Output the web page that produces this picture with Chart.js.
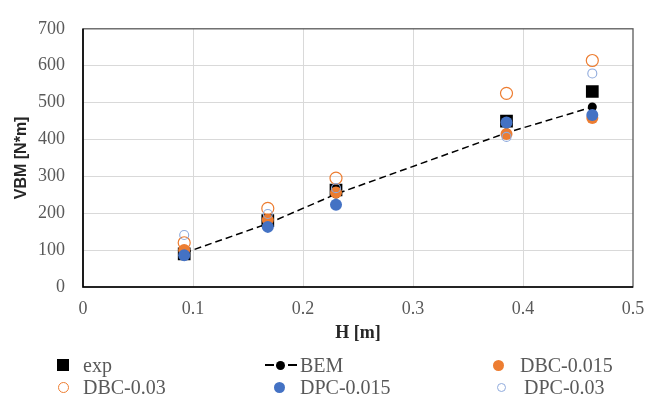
<!DOCTYPE html>
<html>
<head>
<meta charset="utf-8">
<script src="https://cdn.jsdelivr.net/npm/chart.js@4.4.0/dist/chart.umd.min.js"></script>
<style>
  body { margin: 0; background: #fff; }
  #wrap { position: relative; width: 659px; height: 396px; }
  .lg { position: absolute; font-family: "Liberation Serif", serif; font-size: 20px; color: #595959; line-height: 22px; white-space: nowrap; }
  .mk { position: absolute; box-sizing: border-box; }
</style>
</head>
<body>
<div id="wrap">
  <canvas id="vbmChart" width="659" height="396"></canvas>
  <div id="legend"></div>
</div>
<script>
// wave height H [m] and VBM [N*m]
const hValues = [0.092, 0.168, 0.23, 0.385, 0.463];
const expVals = [90, 180, 263, 450, 530];
const bemVals = [92, 172, 252, 418, 488];
const dbc015Vals = [100, 182, 256, 415, 458];
const dbc03Vals = [120, 213, 295, 525, 614];
const dpc015Vals = [86, 163, 223, 446, 466];
const dpc03Vals = [141, 198, 268, 407, 579];

const orange = '#ED7D31';
const blue = '#4472C4';
const lightBlue = '#8FAADC';

const pts = vals => vals.map((v, i) => ({ x: hValues[i], y: v }));

// frame round the plot area (Excel style)
const boxPlugin = {
  id: 'box',
  beforeDatasetsDraw(chart) {
    const { ctx, chartArea: a } = chart;
    ctx.save();
    ctx.strokeStyle = '#595959';
    ctx.lineWidth = 1.3;
    ctx.strokeRect(a.left, a.top, a.right - a.left, a.bottom - a.top);
    ctx.strokeStyle = '#000';
    ctx.lineWidth = 1.6;
    ctx.beginPath();
    ctx.moveTo(a.left, a.top);
    ctx.lineTo(a.left, a.bottom);
    ctx.lineTo(a.right, a.bottom);
    ctx.stroke();
    ctx.restore();
  }
};

const gridColor = c => (c.tick.value === c.scale.min || c.tick.value === c.scale.max) ? 'rgba(0,0,0,0)' : '#d9d9d9';

new Chart(document.getElementById('vbmChart'), {
  type: 'scatter',
  data: {
    datasets: [
      { label: 'exp', data: pts(expVals), pointStyle: 'rect', pointRadius: 9, backgroundColor: '#000', borderColor: '#000', borderWidth: 0, order: 6 },
      { label: 'BEM', data: pts(bemVals), showLine: true, borderColor: '#000', borderWidth: 1.5, borderDash: [7, 4], pointRadius: 4.5, backgroundColor: '#000', pointBorderWidth: 0, order: 5 },
      { label: 'DBC-0.015', data: pts(dbc015Vals), pointRadius: 6, backgroundColor: orange, borderColor: orange, borderWidth: 0, order: 4 },
      { label: 'DBC-0.03', data: pts(dbc03Vals), pointRadius: 6, backgroundColor: 'rgba(0,0,0,0)', borderColor: orange, borderWidth: 1.2, order: 3 },
      { label: 'DPC-0.015', data: pts(dpc015Vals), pointRadius: 6, backgroundColor: blue, borderColor: blue, borderWidth: 0, order: 2 },
      { label: 'DPC-0.03', data: pts(dpc03Vals), pointRadius: 4.5, backgroundColor: 'rgba(0,0,0,0)', borderColor: lightBlue, borderWidth: 1.1, order: 1 }
    ]
  },
  options: {
    responsive: false,
    animation: false,
    layout: { padding: { top: 17, right: 26, left: 12, bottom: 52 } },
    plugins: { legend: { display: false }, tooltip: { enabled: false } },
    scales: {
      x: {
        type: 'linear', min: 0, max: 0.5,
        afterFit: s => { s.height = 57; },
        grid: { color: gridColor, drawTicks: false },
        border: { display: false },
        ticks: { stepSize: 0.1, padding: 11, color: '#595959', font: { family: 'Liberation Serif', size: 18 }, callback: v => +v.toFixed(1) },
        title: { display: true, text: 'H [m]', color: '#262626', padding: 0, font: { family: 'Liberation Serif', size: 18, weight: 'bold' } }
      },
      y: {
        min: 0, max: 700,
        afterFit: s => { s.width = 71; },
        grid: { color: gridColor, drawTicks: false },
        border: { display: false },
        ticks: { stepSize: 100, padding: 18, color: '#595959', font: { family: 'Liberation Serif', size: 18 } },
        title: { display: true, text: 'VBM [N*m]', color: '#262626', padding: 0, font: { family: 'Liberation Sans', size: 16, weight: 'bold' } }
      }
    }
  },
  plugins: [boxPlugin]
});

// legend laid out in three columns like the original
const legend = document.getElementById('legend');
function addText(txt, x, y) {
  const s = document.createElement('span');
  s.className = 'lg';
  s.textContent = txt;
  s.style.left = x + 'px';
  s.style.top = (y - 11) + 'px';
  legend.appendChild(s);
}
function addMark(x, y, size, css) {
  const d = document.createElement('div');
  d.className = 'mk';
  d.style.left = (x - size / 2) + 'px';
  d.style.top = (y - size / 2) + 'px';
  d.style.width = size + 'px';
  d.style.height = size + 'px';
  Object.assign(d.style, css);
  legend.appendChild(d);
}
const row1 = 365, row2 = 387;
addMark(63, row1, 12, { background: '#000' });
addText('exp', 83, row1);
addMark(269, row1, 9, { borderTop: '2px solid #000', height: '0px', top: (row1 - 1) + 'px' });
addMark(280, row1, 9, { background: '#000', borderRadius: '50%' });
addMark(292, row1, 9, { borderTop: '2px solid #000', height: '0px', top: (row1 - 1) + 'px' });
addText('BEM', 300, row1);
addMark(498, row1, 11, { background: orange, borderRadius: '50%' });
addText('DBC-0.015', 520, row1);
addMark(63, row2, 11, { border: '1.2px solid ' + orange, borderRadius: '50%' });
addText('DBC-0.03', 83, row2);
addMark(279, row2, 11, { background: blue, borderRadius: '50%' });
addText('DPC-0.015', 300, row2);
addMark(501, row2, 9, { border: '1.1px solid ' + lightBlue, borderRadius: '50%' });
addText('DPC-0.03', 524, row2);
</script>
</body>
</html>
